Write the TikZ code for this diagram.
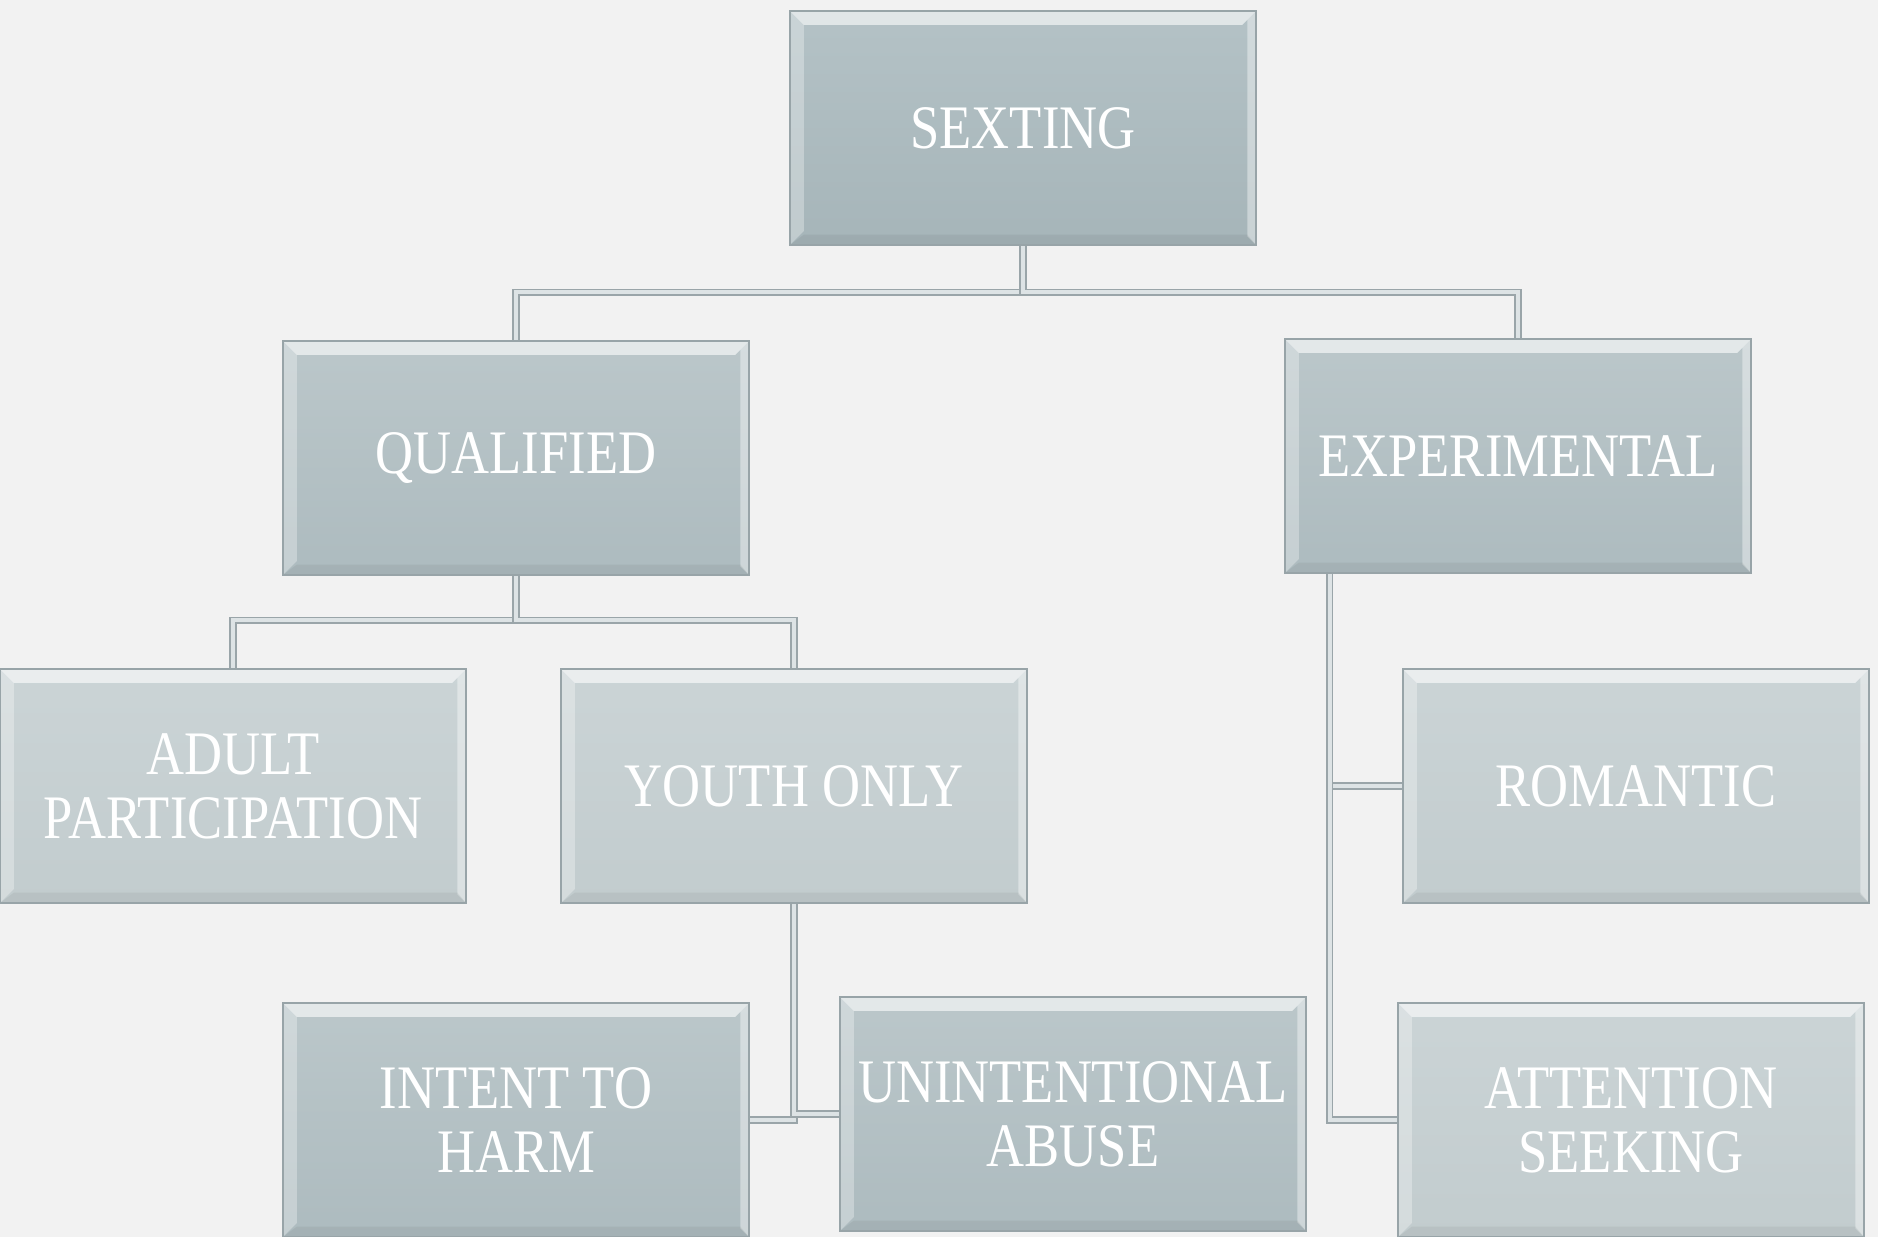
\documentclass[tikz,border=0pt]{standalone}
\usepackage{fontspec}
\setmainfont{Liberation Serif}[FakeStretch=0.85]

\definecolor{bg}{HTML}{F2F2F2}
\definecolor{boxedge}{HTML}{98A4A8}
\definecolor{topA}{HTML}{B4C2C6}
\definecolor{botA}{HTML}{A6B5B9}
\definecolor{topB}{HTML}{BBC7CA}
\definecolor{botB}{HTML}{ADBBBF}
\definecolor{topC}{HTML}{CBD4D6}
\definecolor{botC}{HTML}{C2CCCE}
\definecolor{linkedge}{HTML}{9AA5A9}
\definecolor{linkfill}{HTML}{DDE3E5}

\tikzset{
  bevel/.style={path picture={
    \fill[white,opacity=.6] (path picture bounding box.north west) -- (path picture bounding box.north east)
      -- ([xshift=-4pt,yshift=-4pt]path picture bounding box.north east) -- ([xshift=4pt,yshift=-4pt]path picture bounding box.north west) -- cycle;
    \fill[white,opacity=.3] (path picture bounding box.north west) -- (path picture bounding box.south west)
      -- ([xshift=4pt,yshift=4pt]path picture bounding box.south west) -- ([xshift=4pt,yshift=-4pt]path picture bounding box.north west) -- cycle;
    \fill[white,opacity=.4] (path picture bounding box.north east) -- (path picture bounding box.south east)
      -- ([xshift=-2.5pt,yshift=2.5pt]path picture bounding box.south east) -- ([xshift=-2.5pt,yshift=-2.5pt]path picture bounding box.north east) -- cycle;
    \fill[black,opacity=.05] (path picture bounding box.south west) -- (path picture bounding box.south east)
      -- ([xshift=-2.5pt,yshift=3pt]path picture bounding box.south east) -- ([xshift=4pt,yshift=3pt]path picture bounding box.south west) -- cycle;
  }},
  box/.style={draw=boxedge, line width=.6pt, minimum width=4.66cm, minimum height=2.34cm,
    inner xsep=0pt, align=center, text=white, font=\fontsize{17.6}{18.2}\selectfont, bevel},
  tierA/.style={box, top color=topA, bottom color=botA},
  tierB/.style={box, top color=topB, bottom color=botB},
  tierC/.style={box, top color=topC, bottom color=botC},
  link/.style={draw=linkedge, double=linkfill, double distance=1pt, line width=.5pt},
}

\begin{document}
\begin{tikzpicture}[x=0.01cm,y=-0.01cm]
\useasboundingbox (0,0) rectangle (1878,1237);
\fill[bg] (0,0) rectangle (1878,1237);

% boxes
\node[tierA] (sexting)      at (1023,128)  {SEXTING};
\node[tierB] (qualified)    at (516,458)   {QUALIFIED};
\node[tierB] (experimental) at (1518,456)  {EXPERIMENTAL};
\node[tierC] (adult)        at (233,786)   {ADULT\\PARTICIPATION};
\node[tierC] (youth)        at (794,786)   {YOUTH ONLY};
\node[tierC] (romantic)     at (1636,786)  {ROMANTIC};
\node[tierB] (intent)       at (516,1120)  {INTENT TO\\HARM};
\node[tierB] (unintent)     at (1073,1114) {UNINTENTIONAL\\ABUSE};
\node[tierC] (attention)    at (1631,1120) {ATTENTION\\SEEKING};

% links
\draw[link] (sexting.south) -- ++(0,46) -| (qualified.north);
\draw[link] (sexting.south) -- ++(0,46) -| (experimental.north);
\draw[link] (qualified.south) -- ++(0,44) -| (adult.north);
\draw[link] (qualified.south) -- ++(0,44) -| (youth.north);
\draw[link] (youth.south) |- (intent.east);
\draw[link] (youth.south) |- (unintent.west);
\coordinate (exstem) at ([xshift=0.46cm]experimental.south west);
\draw[link] (exstem) |- (romantic.west);
\draw[link] (exstem) |- (attention.west);
\end{tikzpicture}
\end{document}
